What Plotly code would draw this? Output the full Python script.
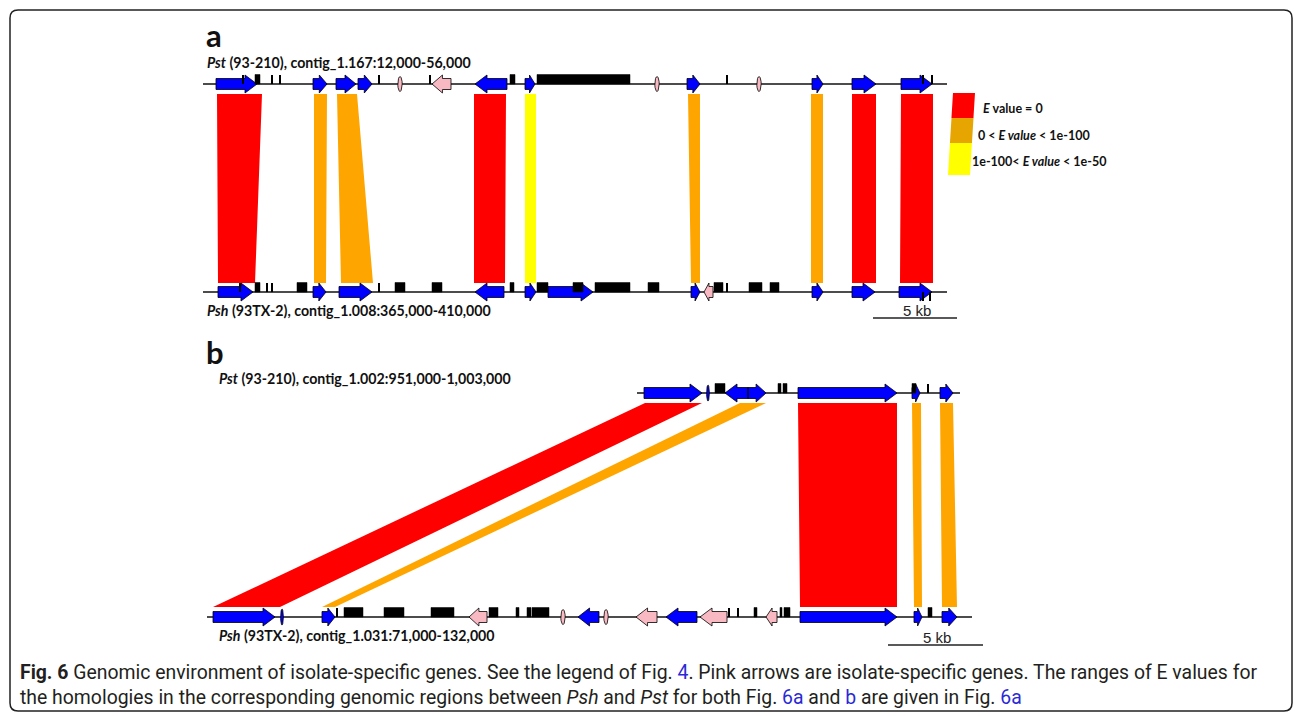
import plotly.graph_objects as go
import numpy as np

# ---------------- data (positions along each track, in figure x units) -------------
# genes: (start, end, strand, colour-class)
genes_a_top = [(216, 257, '+', 'blue'), (313, 327, '+', 'blue'), (336, 356, '+', 'blue'),
               (358, 372, '+', 'blue'), (432, 451, '-', 'pink'), (475, 507, '-', 'blue'),
               (525, 535, '+', 'blue'), (687, 700, '+', 'blue'), (812, 823, '+', 'blue'),
               (852, 876, '+', 'blue'), (901, 932, '+', 'blue')]
small_a_top = [(400, 'pink'), (657, 'pink'), (759, 'pink')]
boxes_a_top = [(255, 260), (510, 515), (537, 630)]
ticks_a_top = [243, 272, 280, 379, 430, 727, 923, 932]

genes_a_bot = [(218, 253, '+', 'blue'), (313, 326, '+', 'blue'), (339, 372, '+', 'blue'),
               (475, 504, '-', 'blue'), (525, 536, '+', 'blue'), (548, 593, '+', 'blue'),
               (691, 700, '+', 'blue'), (704, 713, '-', 'pink'), (812, 823, '+', 'blue'),
               (852, 875, '+', 'blue'), (899, 932, '+', 'blue')]
small_a_bot = []
boxes_a_bot = [(255, 260), (297, 307), (395, 405), (432, 442), (510, 514), (537, 548),
               (573, 583), (595, 630), (648, 659), (714, 723), (749, 762), (770, 779)]
ticks_a_bot = [240, 267, 272, 379, 727]
ticks_a_bot_down = [923, 930]

genes_b_top = [(644, 702, '+', 'blue'), (725, 748, '-', 'blue'), (748, 766, '+', 'blue'),
               (798, 897, '+', 'blue'), (912, 920, '+', 'blue'), (940, 953, '+', 'blue')]
small_b_top = [(708, 'blue')]
boxes_b_top = [(715, 725), (778, 781), (783, 787), (912, 916)]
ticks_b_top = [928]

genes_b_bot = [(213, 275, '+', 'blue'), (322, 335, '+', 'blue'), (469, 487, '-', 'pink'),
               (578, 599, '-', 'blue'), (636, 657, '-', 'pink'), (666, 697, '-', 'blue'),
               (700, 727, '-', 'pink'), (766, 777, '-', 'pink'), (800, 897, '+', 'blue'),
               (914, 922, '+', 'blue'), (942, 957, '+', 'blue')]
small_b_bot = [(282, 'blue'), (563, 'pink'), (606, 'pink')]
boxes_b_bot = [(344, 363), (384, 404), (431, 454), (489, 498), (516, 519), (527, 531),
               (532, 549), (754, 757), (780, 782), (784, 790), (928, 932)]
ticks_b_bot = [337, 729, 738]

# homology bands: (top start, top end, bottom start, bottom end, E-value class)
bands_a = [(217, 262, 218, 255, 'zero'), (314, 327, 314, 326, 'lt100'),
           (337, 357, 341, 373, 'lt100'), (474, 506, 474, 505, 'zero'),
           (525, 536, 525, 536, 'lt50'), (688, 700, 691, 700, 'lt100'),
           (811, 823, 811, 823, 'lt100'), (852, 876, 852, 876, 'zero'),
           (901, 933, 900, 933, 'zero')]
bands_b = [(645, 702, 213, 280, 'zero'), (740, 766, 322, 335, 'lt100'),
           (798, 897, 800, 897, 'zero'), (912, 921, 914, 922, 'lt100'),
           (940, 953, 942, 957, 'lt100')]

legend_labels = ['<b><i>E</i> value = 0</b>',
                 '<b>0 &lt; <i>E value</i> &lt; 1e-100</b>',
                 '<b>1e-100&lt; <i>E value</i> &lt; 1e-50</b>']
legend_colors = ['#FF0000', '#E6A500', '#FFFF00']

track_titles = {
    'a_top': '<b><i>Pst</i> (93-210), contig_1.167:12,000-56,000</b>',
    'a_bot': '<b><i>Psh</i> (93TX-2), contig_1.008:365,000-410,000</b>',
    'b_top': '<b><i>Pst</i> (93-210), contig_1.002:951,000-1,003,000</b>',
    'b_bot': '<b><i>Psh</i> (93TX-2), contig_1.031:71,000-132,000</b>',
}
scale_label = '5 kb'

LINK = '#2a2ad6'
caption1 = ('<b>Fig. 6</b> Genomic environment of isolate-specific genes. See the legend of Fig. '
            f'<span style="color:{LINK}">4</span>. Pink arrows are isolate-specific genes. '
            'The ranges of E values for')
caption2 = ('the homologies in the corresponding genomic regions between <i>Psh</i> and '
            f'<i>Pst</i> for both Fig. <span style="color:{LINK}">6a</span> and '
            f'<span style="color:{LINK}">b</span> are given in Fig. '
            f'<span style="color:{LINK}">6a</span>')

# ---------------- layout constants -------------
tracks = {
    'a_top': dict(y=84, x0=203, x1=947, genes=genes_a_top, small=small_a_top,
                  boxes=boxes_a_top, ticks=ticks_a_top, down=[]),
    'a_bot': dict(y=292, x0=203, x1=947, genes=genes_a_bot, small=small_a_bot,
                  boxes=boxes_a_bot, ticks=ticks_a_bot, down=ticks_a_bot_down),
    'b_top': dict(y=393, x0=637, x1=960, genes=genes_b_top, small=small_b_top,
                  boxes=boxes_b_top, ticks=ticks_b_top, down=[]),
    'b_bot': dict(y=617, x0=207, x1=972, genes=genes_b_bot, small=small_b_bot,
                  boxes=boxes_b_bot, ticks=ticks_b_bot, down=[]),
}
COL = {'blue': '#0000FF', 'pink': '#F8B9C3'}
BANDCOL = {'zero': '#FF0000', 'lt100': '#FFA500', 'lt50': '#FFFF00'}

BH, HH = 5.5, 9.0


def arrow(s, e, strand, y):
    L = e - s
    hl = min(12.0, 0.55 * L)
    if strand == '+':
        xs = [s, e - hl, e - hl, e, e - hl, e - hl, s, s]
    else:
        xs = [e, s + hl, s + hl, s, s + hl, s + hl, e, e]
    ys = [y - BH, y - BH, y - HH, y, y + HH, y + BH, y + BH, y - BH]
    return xs, ys


def ellipse(x, y, rx=2.2, ry=7.5):
    t = np.linspace(0, 2 * np.pi, 20)
    return list(x + rx * np.cos(t)), list(y + ry * np.sin(t))


poly = {k: ([], []) for k in ['blue', 'pink', 'black', 'zero', 'lt100', 'lt50']}


def add(key, xs, ys):
    poly[key][0].extend(list(xs) + [None])
    poly[key][1].extend(list(ys) + [None])


line_x, line_y, tick_x, tick_y = [], [], [], []
for name, t in tracks.items():
    y = t['y']
    line_x += [t['x0'], t['x1'], None]
    line_y += [y, y, None]
    for s, e, st, c in t['genes']:
        add(c, *arrow(s, e, st, y))
    for x, c in t['small']:
        if c == 'blue':
            add(c, *ellipse(x, y, rx=1.4, ry=8))
        else:
            add(c, *ellipse(x, y))
    for s, e in t['boxes']:
        add('black', [s, e, e, s, s], [y - 9.5, y - 9.5, y, y, y - 9.5])
    for x in t['ticks']:
        tick_x += [x, x, None]
        tick_y += [y - 9, y, None]
    for x in t['down']:
        tick_x += [x, x, None]
        tick_y += [y, y + 9, None]

for bands, yt, yb in [(bands_a, 94, 283), (bands_b, 403, 607)]:
    for ts, te, bs, be, cl in bands:
        add(cl, [ts, te, be, bs, ts], [yt, yt, yb, yb, yt])

fig = go.Figure()

# bands first
for cl in ['zero', 'lt100', 'lt50']:
    fig.add_trace(go.Scatter(x=poly[cl][0], y=poly[cl][1], mode='lines', fill='toself',
                             fillcolor=BANDCOL[cl], line=dict(width=0, color=BANDCOL[cl]),
                             hoverinfo='skip'))
# track lines
fig.add_trace(go.Scatter(x=line_x, y=line_y, mode='lines',
                         line=dict(color='#111111', width=1.5), hoverinfo='skip'))
for c in ['blue', 'pink']:
    fig.add_trace(go.Scatter(x=poly[c][0], y=poly[c][1], mode='lines', fill='toself',
                             fillcolor=COL[c], line=dict(color='#000000', width=0.8),
                             hoverinfo='skip'))
fig.add_trace(go.Scatter(x=poly['black'][0], y=poly['black'][1], mode='lines', fill='toself',
                         fillcolor='#000000', line=dict(color='#000000', width=0.5),
                         hoverinfo='skip'))
fig.add_trace(go.Scatter(x=tick_x, y=tick_y, mode='lines',
                         line=dict(color='#000000', width=2), hoverinfo='skip'))

# legend bar (slanted)
ly = [93, 118, 143, 175]
def lx(y, left=True):
    f = (y - ly[0]) / (ly[-1] - ly[0])
    return (953 - 5 * f) if left else (975 - 5 * f)
for i, c in enumerate(legend_colors):
    y0, y1 = ly[i], ly[i + 1]
    fig.add_trace(go.Scatter(x=[lx(y0), lx(y0, False), lx(y1, False), lx(y1), lx(y0)],
                             y=[y0, y0, y1, y1, y0], mode='lines', fill='toself',
                             fillcolor=c, line=dict(width=0, color=c), hoverinfo='skip'))

# scale bars
fig.add_trace(go.Scatter(x=[873, 957, None, 888, 983], y=[318, 318, None, 645, 645],
                         mode='lines', line=dict(color='#222222', width=1.3),
                         hoverinfo='skip'))

ann = []
TF = 'Lato'
ann.append(dict(x=204, y=35, text='<b>a</b>', font=dict(size=31, family=TF, color='#111')))
ann.append(dict(x=204, y=352, text='<b>b</b>', font=dict(size=31, family=TF, color='#111')))
title_pos = {'a_top': (205, 62), 'a_bot': (205, 310), 'b_top': (217, 378), 'b_bot': (217, 635)}
for k, (x, y) in title_pos.items():
    ann.append(dict(x=x, y=y, text=track_titles[k], font=dict(size=14.2, family=TF, color='#111')))
for lbl, (x, y) in zip(legend_labels, [(981, 108), (976, 135), (970, 161)]):
    ann.append(dict(x=x, y=y, text=lbl, font=dict(size=12.5, family=TF, color='#111')))
for x, y in [(917, 310), (937, 637)]:
    ann.append(dict(x=x, y=y, text=scale_label, xanchor='center',
                    font=dict(size=15, family='Liberation Sans', color='#222')))
CF = dict(size=19.4, family='Roboto', color='#231F20')
ann.append(dict(x=18, y=672, text=caption1, font=CF))
ann.append(dict(x=18, y=697, text=caption2, font=CF))
for a in ann:
    a.setdefault('xanchor', 'left')
    a.update(xref='x', yref='y', yanchor='middle', showarrow=False)

fig.update_layout(
    width=1295, height=716, autosize=False,
    margin=dict(l=0, r=0, t=0, b=0),
    paper_bgcolor='white', plot_bgcolor='white', showlegend=False,
    xaxis=dict(range=[0, 1295], visible=False, fixedrange=True),
    yaxis=dict(range=[716, 0], visible=False, fixedrange=True),
    annotations=ann,
    shapes=[dict(type='path', xref='x', yref='y',
                 path='M 18 10 L 1284 10 Q 1292 10 1292 18 L 1292 703 Q 1292 711 1284 711 '
                      'L 18 711 Q 10 711 10 703 L 10 18 Q 10 10 18 10 Z',
                 line=dict(color='#222222', width=1.5))],
)

fig.write_html('out.html', post_script="document.body.style.margin='0';",
               config={'displayModeBar': False})
